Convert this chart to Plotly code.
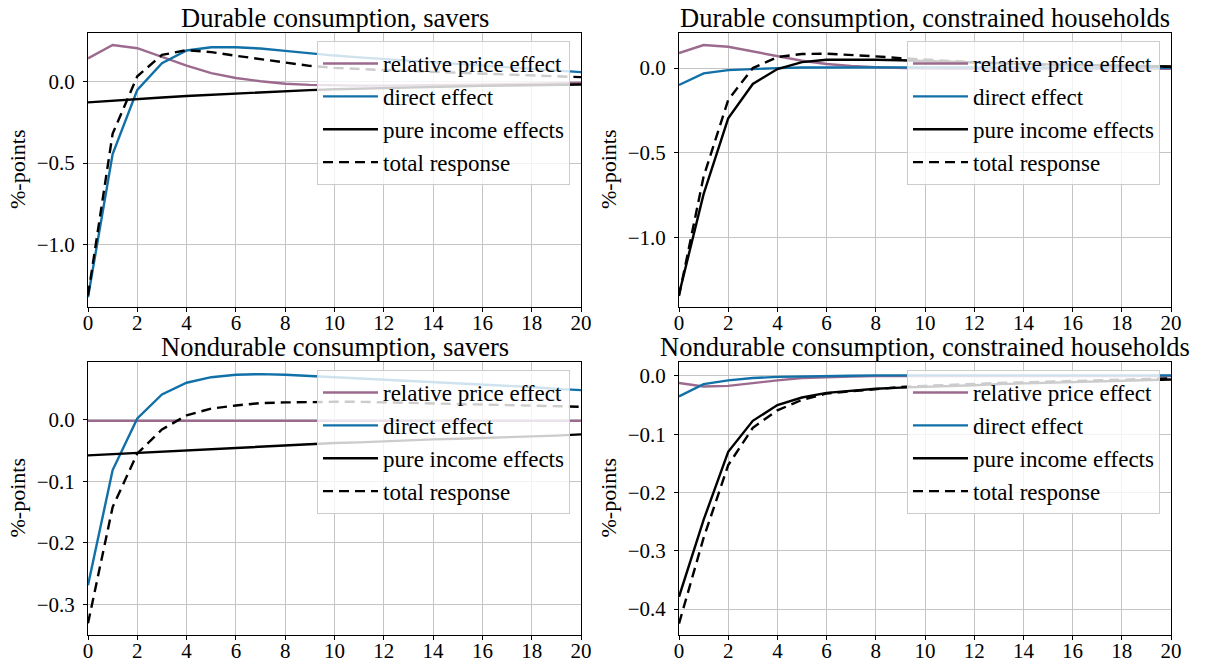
import plotly.graph_objects as go

t = list(range(21))

# Durable consumption, savers
rel_dur_sav = [0.14, 0.222, 0.202, 0.15, 0.095, 0.05, 0.02, 0.0, -0.015, -0.022, -0.026,
               -0.027, -0.027, -0.026, -0.024, -0.022, -0.02, -0.018, -0.015, -0.013, -0.011]
dir_dur_sav = [-1.32, -0.445, -0.053, 0.11, 0.188, 0.208, 0.208, 0.2, 0.186, 0.17, 0.157,
               0.146, 0.136, 0.126, 0.116, 0.106, 0.097, 0.087, 0.077, 0.066, 0.056]
inc_dur_sav = [-0.129, -0.118, -0.108, -0.099, -0.09, -0.082, -0.074, -0.067, -0.06, -0.054, -0.049,
               -0.045, -0.041, -0.037, -0.034, -0.031, -0.028, -0.026, -0.024, -0.022, -0.02]
tot_dur_sav = [-1.31, -0.32, 0.03, 0.161, 0.19, 0.178, 0.156, 0.135, 0.113, 0.094, 0.082,
               0.074, 0.068, 0.063, 0.058, 0.053, 0.048, 0.043, 0.038, 0.031, 0.025]

# Durable consumption, constrained households
rel_dur_con = [0.089, 0.136, 0.126, 0.098, 0.069, 0.043, 0.024, 0.012, 0.005, 0.0, -0.003,
               -0.004, -0.005, -0.005, -0.005, -0.005, -0.005, -0.004, -0.004, -0.004, -0.004]
dir_dur_con = [-0.10, -0.031, -0.012, -0.004, 0.0, 0.003, 0.004, 0.004, 0.004, 0.004, 0.004,
               0.004, 0.003, 0.003, 0.003, 0.003, 0.003, 0.002, 0.002, 0.002, 0.002]
inc_dur_con = [-1.335, -0.744, -0.297, -0.094, -0.006, 0.035, 0.049, 0.051, 0.049, 0.046, 0.041,
               0.037, 0.033, 0.029, 0.025, 0.022, 0.019, 0.016, 0.013, 0.011, 0.009]
tot_dur_con = [-1.345, -0.64, -0.188, 0.0, 0.065, 0.083, 0.085, 0.078, 0.069, 0.059, 0.049,
               0.042, 0.035, 0.028, 0.023, 0.019, 0.016, 0.013, 0.011, 0.009, 0.007]

# Nondurable consumption, savers
rel_nd_sav = [-0.002, -0.002, -0.002, -0.002, -0.002, -0.002, -0.002, -0.002, -0.002, -0.002, -0.002,
              -0.002, -0.002, -0.002, -0.002, -0.002, -0.002, -0.002, -0.002, -0.002, -0.002]
dir_nd_sav = [-0.269, -0.082, 0.002, 0.041, 0.06, 0.069, 0.073, 0.074, 0.073, 0.071, 0.070,
              0.068, 0.066, 0.064, 0.062, 0.060, 0.058, 0.055, 0.053, 0.050, 0.048]
inc_nd_sav = [-0.058, -0.056, -0.054, -0.051, -0.049, -0.047, -0.045, -0.043, -0.041, -0.040, -0.038,
              -0.037, -0.035, -0.034, -0.032, -0.031, -0.030, -0.028, -0.027, -0.026, -0.024]
tot_nd_sav = [-0.331, -0.142, -0.055, -0.016, 0.007, 0.018, 0.023, 0.027, 0.028, 0.029, 0.029,
              0.029, 0.028, 0.027, 0.027, 0.026, 0.025, 0.024, 0.023, 0.022, 0.021]

# Nondurable consumption, constrained households
rel_nd_con = [-0.012, -0.018, -0.017, -0.012, -0.0075, -0.0035, -0.0017, -0.0008, -0.0003, 0.0, 0.0,
              0.0, 0.0, 0.0, 0.0, 0.0, 0.0, 0.0, 0.0, 0.0, 0.0]
dir_nd_con = [-0.035, -0.014, -0.0075, -0.0035, -0.0015, -0.0005, 0.0, 0.0005, 0.001, 0.001, 0.001,
              0.001, 0.001, 0.001, 0.001, 0.001, 0.001, 0.001, 0.001, 0.001, 0.001]
inc_nd_con = [-0.379, -0.247, -0.130, -0.077, -0.050, -0.037, -0.029, -0.025, -0.022, -0.020, -0.019,
              -0.017, -0.016, -0.014, -0.013, -0.012, -0.010, -0.009, -0.008, -0.007, -0.006]
tot_nd_con = [-0.425, -0.278, -0.153, -0.089, -0.059, -0.041, -0.030, -0.026, -0.022, -0.019, -0.017,
              -0.015, -0.014, -0.012, -0.011, -0.010, -0.008, -0.007, -0.006, -0.005, -0.004]

titles = ["Durable consumption, savers", "Durable consumption, constrained households",
          "Nondurable consumption, savers", "Nondurable consumption, constrained households"]
names = ["relative price effect", "direct effect", "pure income effects", "total response"]
y_ranges = [[-1.38, 0.295], [-1.41, 0.207], [-0.350, 0.0937], [-0.4446, 0.024]]
y_dticks = [0.5, 0.5, 0.1, 0.1]

panels = [
    (rel_dur_sav, dir_dur_sav, inc_dur_sav, tot_dur_sav),
    (rel_dur_con, dir_dur_con, inc_dur_con, tot_dur_con),
    (rel_nd_sav, dir_nd_sav, inc_nd_sav, tot_nd_sav),
    (rel_nd_con, dir_nd_con, inc_nd_con, tot_nd_con),
]

W, H = 1215, 669
FONT = "Liberation Serif"
MAUVE = "#9c6a8e"
BLUE = "#1170a8"
colors = [MAUVE, BLUE, "black", "black"]
dashes = ["solid", "solid", "solid", "10px,6px"]

# axes boxes in pixels: (left, right, top, bottom)
boxes = [(88, 581, 33, 307), (679, 1171, 33, 307), (88, 581, 362, 635), (679, 1171, 362, 635)]

fig = go.Figure()
annotations = []
for i, (series, box) in enumerate(zip(panels, boxes)):
    ax = "" if i == 0 else str(i + 1)
    legname = "legend" if i == 0 else f"legend{i + 1}"
    for j, (vals, nm) in enumerate(zip(series, names)):
        fig.add_trace(go.Scatter(
            x=t, y=vals, mode="lines", name=nm,
            line=dict(color=colors[j], width=2.4, dash=dashes[j]),
            xaxis="x" + ax, yaxis="y" + ax, legend=legname,
            legendgroup=f"g{i}_{j}",
        ))
    l, r, tp, b = box
    xd = [l / W, r / W]
    yd = [1 - b / H, 1 - tp / H]
    axis_common = dict(showline=True, mirror=True, linecolor="black", linewidth=1,
                       ticks="outside", ticklen=4, tickwidth=1, tickcolor="black",
                       showgrid=True, gridcolor="#c4c4c4", gridwidth=1, zeroline=False,
                       automargin=False,
                       tickfont=dict(family=FONT, size=21, color="black"))
    fig.update_layout(**{
        "xaxis" + ax: dict(domain=xd, range=[0, 20], dtick=2, tick0=0,
                           anchor="y" + ax, ticklabelstandoff=-7, **axis_common),
        "yaxis" + ax: dict(domain=yd, range=y_ranges[i], dtick=y_dticks[i], tick0=0,
                           tickformat=".1f", anchor="x" + ax, ticklabelstandoff=4,
                           **axis_common),
        legname: dict(x=(r - 11) / W, y=1 - (tp + 8) / H, xanchor="right", yanchor="top",
                      xref="paper", yref="paper",
                      bgcolor="rgba(255,255,255,0.8)", bordercolor="#cccccc", borderwidth=1,
                      font=dict(family=FONT, size=23, color="black"),
                      itemwidth=55, tracegroupgap=1, traceorder="normal"),
    })
    annotations.append(dict(text=titles[i], x=(l + r) / 2 / W, y=1 - (tp - 15) / H,
                            xref="paper", yref="paper", xanchor="center", yanchor="middle",
                            showarrow=False, font=dict(family=FONT, size=26.5, color="black")))
    annotations.append(dict(text="%-points", x=(l - 71) / W, y=1 - (tp + b) / 2 / H,
                            xref="paper", yref="paper", xanchor="center", yanchor="middle",
                            textangle=-90, showarrow=False,
                            font=dict(family=FONT, size=22, color="black")))

fig.update_layout(width=W, height=H, margin=dict(l=0, r=0, t=0, b=0),
                  paper_bgcolor="white", plot_bgcolor="white",
                  annotations=annotations, showlegend=True)

fig.write_html("out.html", config={"displayModeBar": False},
               post_script="document.body.style.margin='0px';")
